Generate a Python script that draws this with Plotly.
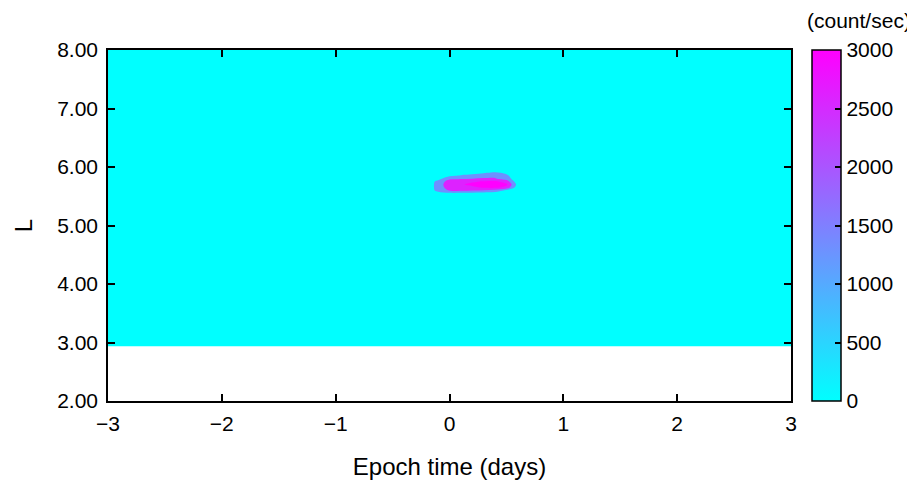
import plotly.graph_objects as go

# ---- data ----
# grid nodes in epoch time (days) and L; outer nodes span the full field
time_days = [-3.0, -0.2, -0.1, 0.0, 0.1, 0.2, 0.3, 0.4, 0.5, 0.6, 0.7, 3.0]
l_values = [2.93, 5.5, 5.55, 5.6, 5.65, 5.7, 5.75, 5.8, 5.85, 5.9, 5.95, 8.0]

# count rate (count/sec) at the inner blob nodes (x = -0.2 .. 0.7), rows keyed by L
blob_rows = {
    5.55: [0, 300, 500, 500, 400, 300, 200, 0, 0, 0],
    5.60: [0, 1000, 1800, 1800, 1700, 1600, 1400, 500, 0, 0],
    5.65: [0, 1100, 2200, 2300, 2500, 2800, 2900, 2400, 0, 0],
    5.70: [0, 1100, 2400, 2600, 2900, 3000, 3000, 2900, 300, 0],
    5.75: [0, 1000, 2200, 2300, 2600, 2800, 2900, 2300, 0, 0],
    5.80: [0, 300, 1500, 1600, 1700, 1800, 1800, 1200, 0, 0],
    5.85: [0, 0, 500, 900, 1100, 1300, 1400, 900, 0, 0],
    5.90: [0, 0, 0, 0, 300, 600, 900, 500, 0, 0],
}
y_ticks = [2, 3, 4, 5, 6, 7, 8]
x_ticks = [-3, -2, -1, 0, 1, 2, 3]
cbar_ticks = [0, 500, 1000, 1500, 2000, 2500, 3000]

# ---- build z grid ----
z = []
for L in l_values:
    row = blob_rows.get(L)
    if row is None:
        z.append([0] * len(time_days))
    else:
        z.append([0] + row + [0])

CYAN = "rgb(0,255,255)"
MAG = "rgb(255,0,255)"


def lin_color(v, vmax=3000):
    f = v / vmax
    return f"rgb({round(255 * f)},{round(255 * (1 - f))},255)"


# band colours (below 700, 700-1700, 1700-2700, above 2700) from representative values
band_scale = [[0, lin_color(0)], [1 / 3, lin_color(1300)],
              [2 / 3, lin_color(2600)], [1, lin_color(3000)]]

TICK_FONT = dict(size=21, color="black")
TITLE_FONT = dict(size=24, color="black")

fig = go.Figure()
fig.add_trace(go.Contour(
    x=time_days, y=l_values, z=z,
    colorscale=band_scale,
    contours=dict(start=700, end=2700, size=1000, coloring="fill", showlines=False),
    line=dict(width=0),
    showscale=False,
    hoverinfo="skip",
))

# continuous colour bar
fig.add_trace(go.Scatter(
    x=[None], y=[None], mode="markers", showlegend=False,
    marker=dict(
        color=[0, 3000], cmin=0, cmax=3000,
        colorscale=[[0, CYAN], [1, MAG]],
        showscale=True,
        colorbar=dict(
            x=1.0307, xanchor="left", xpad=0,
            y=0.5, yanchor="middle", len=1, lenmode="fraction", ypad=0,
            thickness=29, outlinewidth=1.5, outlinecolor="black",
            ticks="inside", ticklen=6, tickcolor="black", tickwidth=1.5,
            tickvals=cbar_ticks, tickfont=TICK_FONT,
        ),
    ),
))

fig.add_annotation(
    text="(count/sec)", xref="paper", yref="paper",
    x=1.1, y=1.083, xanchor="center", yanchor="middle",
    showarrow=False, font=TICK_FONT,
)

axis_common = dict(
    showline=True, linecolor="black", linewidth=1.5, mirror="ticks",
    ticks="inside", ticklen=7, tickwidth=1.5, tickcolor="black",
    showgrid=False, zeroline=False, tickfont=TICK_FONT,
)

fig.update_xaxes(range=[-3, 3], tickvals=x_ticks, ticklabelstandoff=3,
                 title=dict(text="Epoch time (days)", font=TITLE_FONT, standoff=24),
                 **axis_common)
fig.update_yaxes(range=[2, 8], tickvals=y_ticks, tickformat=".2f", ticklabelstandoff=4,
                 title=dict(text="L", font=TITLE_FONT, standoff=18),
                 **axis_common)

# the page adds an 8px body margin, so the figure is 8px smaller than the window
fig.update_layout(
    width=907, height=476,
    margin=dict(l=100, r=124, t=42, b=83, autoexpand=False),
    plot_bgcolor="white", paper_bgcolor="white",
    font=dict(family="Liberation Sans, Arial, sans-serif", size=21, color="black"),
)

fig.write_html("out.html")
